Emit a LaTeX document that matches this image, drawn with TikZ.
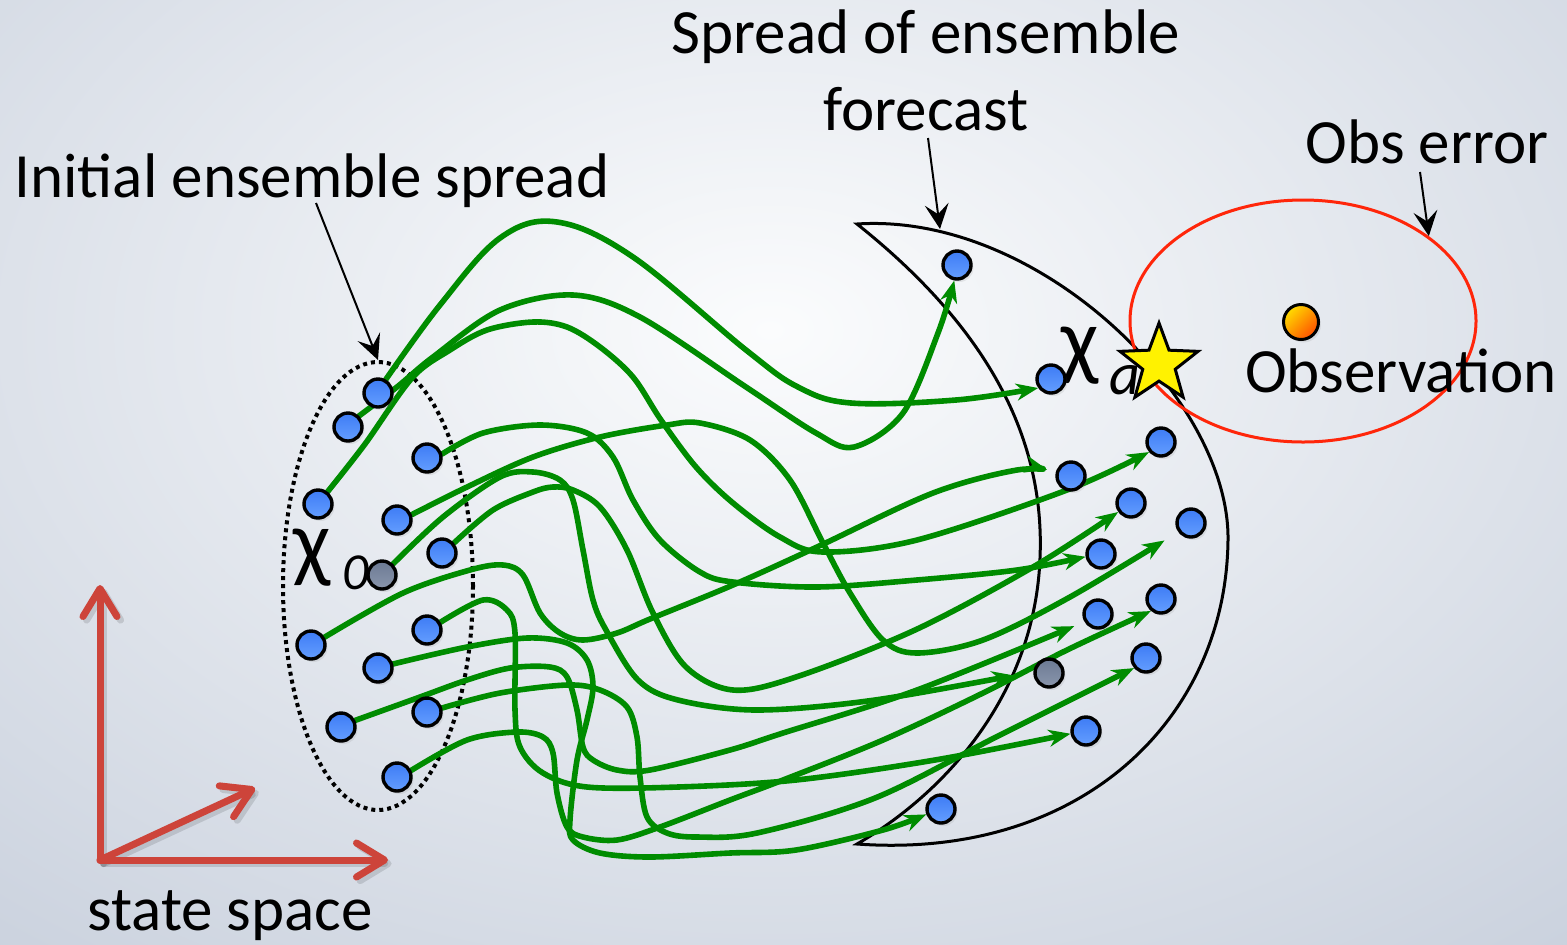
\documentclass[tikz,border=0pt]{standalone}
\usepackage{fontspec}
\setmainfont{Carlito}
\usetikzlibrary{arrows.meta,shapes.geometric,shadows}
\pgfdeclarelayer{back}
\pgfdeclarelayer{flowlayer}
\pgfsetlayers{back,flowlayer,main}
\definecolor{bgout}{RGB}{182,192,209}
\definecolor{bgin}{RGB}{251,252,253}
\definecolor{flowgreen}{RGB}{0,140,0}
\definecolor{dotblueA}{RGB}{62,124,245}
\definecolor{dotblueB}{RGB}{100,158,255}
\definecolor{dotgrayA}{RGB}{108,122,148}
\definecolor{dotgrayB}{RGB}{138,150,172}
\definecolor{axisred}{RGB}{205,68,58}
\definecolor{errred}{RGB}{255,38,10}
\definecolor{obsA}{RGB}{255,220,0}
\definecolor{obsB}{RGB}{255,80,0}
\begin{document}
\begin{tikzpicture}[x=0.5pt,y=-0.5pt,
  every node/.style={inner sep=0pt},
  lbl/.style={font=\fontsize{31.5}{36}\selectfont},
  greek/.style={font=\fontsize{44}{48}\selectfont},
  member/.style={circle, draw=black, line width=1.7pt, minimum size=14pt,
    top color=dotblueA, bottom color=dotblueB,
    drop shadow={shadow xshift=1.2pt, shadow yshift=-1.5pt, opacity=0.15}},
  truth/.style={member, top color=dotgrayA, bottom color=dotgrayB},
  traj/.style={draw=flowgreen, line width=2.8pt, line cap=round, line join=round,
    -{Stealth[length=11pt,width=8.5pt,inset=3.5pt]}},
  pointer/.style={draw=black, line width=1pt, -{Stealth[length=12.5pt,width=12pt,inset=5pt]}},
  axarrow/.style={draw=axisred, line width=3.5pt, line cap=round,
    -{Straight Barb[round,length=14pt,width=17pt]}},
  axshadow/.style={axarrow, draw=black, opacity=0.12,
    transform canvas={shift={(1.8pt,-1.8pt)}}},
]
\useasboundingbox (0,0) rectangle (1567,944);

% ---------- background, spreads and error ellipse ----------
\begin{pgfonlayer}{back}
  \fill[bgout] (0,0) rectangle (1567,944);
  \begin{scope}
    \clip (0,0) rectangle (1567,944);
    \shade[inner color=bgin, outer color=bgout] (770,330) ellipse [x radius=1750, y radius=1150];
  \end{scope}
  % forecast spread (crescent)
  \draw[black, line width=1.5pt, line join=miter]
    (857,224) .. controls (1040,212) and (1230,400) .. (1228,540)
    .. controls (1226,720) and (1080,860) .. (857,844)
    .. controls (950,790) and (1035,690) .. (1040,558)
    .. controls (1045,440) and (990,330) .. cycle;
  % initial spread
  \node[ellipse, draw=black, line width=2pt, dash pattern=on 2pt off 2pt,
    minimum width=95pt, minimum height=224pt] (spread0) at (378,586) {};
  % observation error
  \node[ellipse, draw=errred, line width=1.5pt,
    minimum width=173pt, minimum height=121pt] (obserr) at (1303,321) {};
\end{pgfonlayer}

% ---------- labels ----------
\node[lbl, anchor=base] (tspread) at (926,53) {Spread of ensemble};
\node[lbl, anchor=base] (tfore) at (926,130) {forecast};
\node[lbl, anchor=base west] (tinit) at (14,197) {Initial ensemble spread};
\node[lbl, anchor=base] (terr) at (1427,163) {Obs error};
\node[lbl, anchor=base] (tobs) at (1401,392) {Observation};
\node[lbl, anchor=base] (tstate) at (230,930) {state space};
\node[greek, anchor=base] (chi0) at (312,571) {χ};
\node[font=\fontsize{26}{30}\selectfont\itshape, anchor=base] (sub0) at (356,589) {0};
\node[greek, anchor=base] (chia) at (1080,369) {χ};
\node[font=\fontsize{30}{34}\selectfont\itshape, anchor=base] (suba) at (1125,394) {a};

% ---------- initial ensemble ----------
\node[member] (L1) at (378,393) {};
\node[member] (L2) at (348,427) {};
\node[member] (L3) at (427,458) {};
\node[member] (L4) at (318,504) {};
\node[member] (L5) at (397,520) {};
\node[member] (L6) at (442,553) {};
\node[truth]  (L7) at (382,575) {};
\node[member] (L8) at (311,645) {};
\node[member] (L9) at (427,630) {};
\node[member] (L10) at (378,668) {};
\node[member] (L11) at (341,727) {};
\node[member] (L12) at (427,712) {};
\node[member] (L13) at (397,777) {};

% ---------- forecast ensemble ----------
\node[member] (R1) at (957,265) {};
\node[member] (R2) at (1051,379) {};
\node[member] (R3) at (1161,442) {};
\node[member] (R4) at (1071,476) {};
\node[member] (R5) at (1131,503) {};
\node[member] (R6) at (1191,523) {};
\node[member] (R7) at (1101,554) {};
\node[member] (R8) at (1161,599) {};
\node[member] (R9) at (1098,614) {};
\node[truth]  (R10) at (1049,673) {};
\node[member] (R11) at (1146,658) {};
\node[member] (R12) at (1086,731) {};
\node[member] (R13) at (941,809) {};

% analysis star and observation
\node[star, star points=5, star point ratio=2.4, minimum size=41pt, draw=black,
  line width=1.5pt, fill=yellow] (xa) at (1159,364) {};
\node[circle, draw=black, line width=1.5pt, minimum size=17.5pt,
  shading=axis, top color=obsA, bottom color=obsB, shading angle=45,
  drop shadow={shadow xshift=1.2pt, shadow yshift=-1.5pt, opacity=0.15}] (obs) at (1301,322) {};

% ---------- trajectories ----------
\begin{pgfonlayer}{flowlayer}
\draw[traj] plot[smooth, tension=0.6] coordinates {(L1.60) (440,305) (500,238) (557,222) (633,257) (746,350) (798,387) (851,403) (956,400) (R2.215)};
\draw[traj] plot[smooth, tension=0.55] coordinates {(L2.45) (397,387) (433,357) (500,310) (573,295) (640,317) (746,387) (816,433) (854,447) (903,413) (938,333) (R1.260)};
\draw[traj] plot[smooth, tension=0.55] coordinates {(L4.52) (365,444) (412,378) (450,350) (487,330) (533,322) (567,327) (600,347) (633,377) (661,420) (696,467) (733,503) (780,537) (823,552) (917,540) (1067,490) (R3.220)};
\draw[traj] plot[smooth, tension=0.55] coordinates {(L3.15) (483,433) (540,425) (587,433) (613,457) (633,500) (660,540) (700,572) (733,582) (817,587) (917,580) (1017,570) (R7.190)};
\draw[traj, shorten >=8pt] plot[smooth, tension=0.55] coordinates {(L5.20) (467,487) (533,457) (600,437) (667,425) (700,423) (750,440) (790,480) (823,543) (850,593) (883,640) (917,653) (983,640) (1070,597) (R6.215)};
\draw[traj] plot[smooth, tension=0.55] coordinates {(L6.40) (493,510) (533,492) (553,487) (573,490) (600,507) (627,550) (653,613) (686,667) (733,690) (796,677) (915,630) (1033,567) (R5.215)};
\draw[traj, shorten >=10pt] plot[smooth, tension=0.55] coordinates {(L7.45) (443,517) (500,477) (533,472) (560,480) (573,500) (583,550) (593,600) (606,630) (638,680) (678,700) (757,710) (875,700) (R10.175)};
\draw[traj, shorten >=4.5pt] plot[smooth, tension=0.55] coordinates {(L8.30) (403,593) (470,570) (503,565) (523,575) (540,613) (560,633) (583,640) (617,633) (650,619) (733,585) (817,547) (933,493) (1017,470) (R4.165)};
\draw[traj] plot[smooth, tension=0.55] coordinates {(L9.30) (483,600) (507,610) (515,633) (515,710) (520,747) (543,773) (587,787) (678,787) (796,780) (935,760) (R12.190)};
\draw[traj] plot[smooth, tension=0.55] coordinates {(L10.15) (467,647) (527,638) (567,643) (587,660) (593,687) (587,720) (577,760) (570,820) (573,840) (600,853) (650,857) (730,853) (796,850) (883,830) (R13.200)};
\draw[traj, shorten >=5.5pt] plot[smooth, tension=0.55] coordinates {(L11.25) (420,697) (467,680) (510,668) (550,667) (567,677) (577,710) (583,747) (593,760) (617,770) (650,770) (730,750) (783,733) (917,690) (R9.210)};
\draw[traj] plot[smooth, tension=0.55] coordinates {(L12.15) (500,693) (567,685) (600,690) (627,707) (637,737) (640,777) (647,817) (667,833) (697,837) (757,833) (875,798) (1000,735) (R11.220)};
\draw[traj] plot[smooth, tension=0.55] coordinates {(L13.25) (467,740) (517,732) (543,737) (553,753) (557,793) (567,827) (583,837) (617,840) (660,827) (730,800) (783,780) (883,740) (983,693) (1067,650) (R8.230)};
\end{pgfonlayer}

% ---------- annotation arrows ----------
\coordinate (p1) at (316,203);
\coordinate (p2) at (928,138);
\coordinate (fcTop) at (940,229);
\coordinate (p3) at (1420,172);
\draw[pointer] (p1) -- (spread0.north);
\draw[pointer] (p2) -- (fcTop);
\draw[pointer] (p3) -- (obserr.34);

% ---------- state space axes ----------
\coordinate (O) at (100,860);
\coordinate (axX) at (388,860);
\coordinate (axY) at (100,585);
\coordinate (axZ) at (255,788);
\draw[axshadow] (O) -- (axX);
\draw[axshadow] (O) -- (axY);
\draw[axshadow] (O) -- (axZ);
\draw[axarrow] (O) -- (axX);
\draw[axarrow] (O) -- (axY);
\draw[axarrow] (O) -- (axZ);
\end{tikzpicture}
\end{document}
